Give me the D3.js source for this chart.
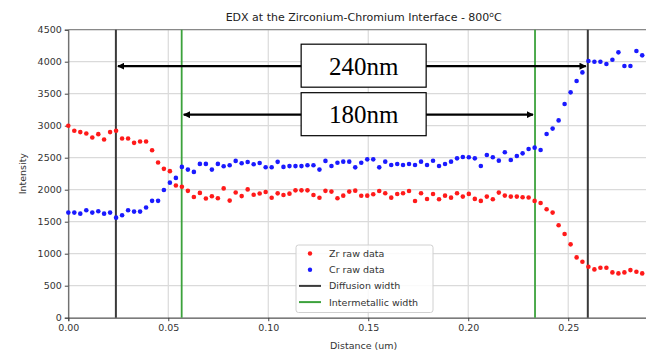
<!DOCTYPE html>
<html>
<head>
<meta charset="utf-8">
<script src="https://cdn.jsdelivr.net/npm/d3@7"></script>
<style>
  body { margin: 0; background: #fff; }
  svg { display: block; font-family: "DejaVu Sans", sans-serif; }
</style>
</head>
<body>
<div id="chart"></div>
<script>
const width = 646;
const height = 351;

// distance along the line scan (um)
const distance = [
  0, 0.0030, 0.0060, 0.0090, 0.0120, 0.0150, 0.0179, 0.0209, 0.0239, 0.0269,
  0.0299, 0.0329, 0.0359, 0.0389, 0.0419, 0.0449, 0.0478, 0.0508, 0.0538, 0.0568,
  0.0598, 0.0628, 0.0658, 0.0688, 0.0718, 0.0748, 0.0777, 0.0807, 0.0837, 0.0867,
  0.0897, 0.0927, 0.0957, 0.0987, 0.1017, 0.1047, 0.1076, 0.1106, 0.1136, 0.1166,
  0.1196, 0.1226, 0.1256, 0.1286, 0.1316, 0.1346, 0.1375, 0.1405, 0.1435, 0.1465,
  0.1495, 0.1525, 0.1555, 0.1585, 0.1615, 0.1645, 0.1674, 0.1704, 0.1734, 0.1764,
  0.1794, 0.1824, 0.1854, 0.1884, 0.1914, 0.1944, 0.1973, 0.2003, 0.2033, 0.2063,
  0.2093, 0.2123, 0.2153, 0.2183, 0.2213, 0.2243, 0.2272, 0.2302, 0.2332, 0.2362,
  0.2392, 0.2422, 0.2452, 0.2482, 0.2512, 0.2542, 0.2571, 0.2601, 0.2631, 0.2661,
  0.2691, 0.2721, 0.2751, 0.2781, 0.2811, 0.2841, 0.2870
];

const zrRaw = [
  3000, 2921, 2900, 2879, 2816, 2868, 2784, 2900, 2921, 2800,
  2800, 2732, 2753, 2753, 2616, 2426, 2326, 2290, 2065, 2047,
  1982, 1885, 1950, 1862, 1898, 1867, 2020, 1830, 1956, 1900,
  2005, 1922, 1940, 1965, 1875, 1943, 1917, 1938, 1990, 1990,
  1990, 1917, 1875, 1982, 1970, 1866, 1907, 1970, 1985, 1905,
  1907, 1928, 1980, 1944, 1876, 1933, 1944, 1980, 1824, 1944,
  1855, 1933, 1850, 1907, 1876, 1944, 1892, 1934, 1856, 1825,
  1892, 1851, 1955, 1908, 1892, 1892, 1882, 1877, 1825, 1792,
  1694, 1642, 1444, 1307, 1146, 942, 875, 796, 755, 781,
  781, 708, 692, 708, 744, 718, 692
];

const crRaw = [
  1642, 1642, 1626, 1679, 1642, 1663, 1626, 1642, 1563, 1600,
  1679, 1658, 1658, 1721, 1826, 1826, 1995, 2110, 2184, 2356,
  2314, 2278, 2403, 2403, 2314, 2403, 2366, 2382, 2450, 2414,
  2432, 2398, 2418, 2351, 2351, 2435, 2356, 2369, 2369, 2369,
  2382, 2382, 2314, 2450, 2370, 2422, 2438, 2438, 2349, 2422,
  2474, 2474, 2349, 2438, 2386, 2401, 2386, 2401, 2386, 2438,
  2386, 2453, 2370, 2401, 2438, 2490, 2510, 2506, 2490, 2371,
  2542, 2506, 2454, 2584, 2464, 2527, 2568, 2636, 2657, 2620,
  2870, 2955, 3083, 3338, 3521, 3698, 3833, 4010, 4000, 4000,
  3964, 4031, 4146, 3932, 3932, 4167, 4099
];

// boundaries (um)
const diffusionEdges = [0.0238, 0.2598];
const intermetallicEdges = [0.0567, 0.2334];

// width annotations: label, edges, height of arrow in intensity units
const annotations = [
  { label: '240nm', edges: diffusionEdges, level: 3930 },
  { label: '180nm', edges: intermetallicEdges, level: 3172 }
];

const xTicks = [0, 0.05, 0.10, 0.15, 0.20, 0.25];
const yTicks = [0, 500, 1000, 1500, 2000, 2500, 3000, 3500, 4000, 4500];

const legendItems = [
  { label: 'Zr raw data', type: 'dot', color: '#ff1a1a' },
  { label: 'Cr raw data', type: 'dot', color: '#1a1aff' },
  { label: 'Diffusion width', type: 'line', color: '#3a3a3a' },
  { label: 'Intermetallic width', type: 'line', color: '#3ca23c' }
];

const margin = { top: 29.7, left: 68.3, bottom: 33.3 };
const plotRight = 659;

const svg = d3
  .select('#chart')
  .append('svg')
  .attr('width', width)
  .attr('height', height)
  .attr('viewBox', `0 0 ${width} ${height}`);

const xScale = d3.scaleLinear()
  .domain([0, 0.2954])
  .range([margin.left, plotRight]);

const yScale = d3.scaleLinear()
  .domain([0, 4500])
  .range([height - margin.bottom, margin.top]);

// Gridlines
const grid = svg.append('g').attr('class', 'gridlines');
grid.selectAll('.gx')
  .data(xTicks)
  .join('line')
  .attr('x1', d => xScale(d)).attr('x2', d => xScale(d))
  .attr('y1', yScale(0)).attr('y2', yScale(4500))
  .attr('stroke', '#dadada')
  .attr('stroke-width', 1.2);
grid.selectAll('.gy')
  .data(yTicks)
  .join('line')
  .attr('x1', xScale.range()[0]).attr('x2', xScale.range()[1])
  .attr('y1', d => yScale(d)).attr('y2', d => yScale(d))
  .attr('stroke', '#dadada')
  .attr('stroke-width', 1.2);

// Axes
svg.append('g')
  .attr('class', 'x-axis')
  .attr('transform', `translate(0, ${yScale(0)})`)
  .call(d3.axisBottom(xScale).tickValues(xTicks).tickFormat(d3.format('.2f')).tickSizeOuter(0).tickSize(3.5).tickPadding(3));

svg.append('g')
  .attr('class', 'y-axis')
  .attr('transform', `translate(${xScale(0)}, 0)`)
  .call(d3.axisLeft(yScale).tickValues(yTicks).tickFormat(d3.format('d')).tickSizeOuter(0).tickSize(3.5).tickPadding(3));

svg.selectAll('.x-axis text, .y-axis text')
  .attr('font-size', 9.5)
  .attr('fill', '#333')
  .attr('font-family', '"DejaVu Sans", sans-serif');
svg.selectAll('.x-axis .domain, .y-axis .domain, .tick line')
  .attr('stroke', '#444');

// top frame line
svg.append('line')
  .attr('x1', xScale.range()[0]).attr('x2', xScale.range()[1])
  .attr('y1', yScale(4500)).attr('y2', yScale(4500))
  .attr('stroke', '#777')
  .attr('stroke-width', 1);

// Vertical boundary lines
svg.append('g')
  .selectAll('line')
  .data(diffusionEdges)
  .join('line')
  .attr('x1', d => xScale(d)).attr('x2', d => xScale(d))
  .attr('y1', yScale(0)).attr('y2', yScale(4500))
  .attr('stroke', '#3a3a3a')
  .attr('stroke-width', 2);

svg.append('g')
  .selectAll('line')
  .data(intermetallicEdges)
  .join('line')
  .attr('x1', d => xScale(d)).attr('x2', d => xScale(d))
  .attr('y1', yScale(0)).attr('y2', yScale(4500))
  .attr('stroke', '#3ca23c')
  .attr('stroke-width', 1.8);

// Dots
const zrPoints = distance.map((d, i) => ({ x: d, y: zrRaw[i] }));
const crPoints = distance.map((d, i) => ({ x: d, y: crRaw[i] }));

svg.append('g').attr('class', 'dots')
  .selectAll('circle')
  .data(zrPoints)
  .join('circle')
  .attr('cx', d => xScale(d.x))
  .attr('cy', d => yScale(d.y))
  .attr('r', 2.3)
  .attr('fill', '#ff1a1a');

svg.append('g').attr('class', 'dots')
  .selectAll('circle')
  .data(crPoints)
  .join('circle')
  .attr('cx', d => xScale(d.x))
  .attr('cy', d => yScale(d.y))
  .attr('r', 2.3)
  .attr('fill', '#1a1aff');

// Arrow annotations
const defs = svg.append('defs');
defs.append('marker')
  .attr('id', 'arrow')
  .attr('viewBox', '0 0 10 10')
  .attr('refX', 9).attr('refY', 5)
  .attr('markerWidth', 3.2).attr('markerHeight', 3.2)
  .attr('orient', 'auto-start-reverse')
  .append('path')
  .attr('d', 'M0,0 L10,5 L0,10 z')
  .attr('fill', '#000');

const xMid = (xScale.range()[0] + xScale.range()[1]) / 2;

annotations.forEach(a => {
  const g = svg.append('g').attr('class', 'annotation');
  g.append('line')
    .attr('x1', xScale(a.edges[0]) + 2)
    .attr('x2', xScale(a.edges[1]) - 2)
    .attr('y1', yScale(a.level)).attr('y2', yScale(a.level))
    .attr('stroke', '#000')
    .attr('stroke-width', 2.2)
    .attr('marker-start', 'url(#arrow)')
    .attr('marker-end', 'url(#arrow)');
  g.append('rect')
    .attr('x', xMid - 62.5)
    .attr('y', yScale(a.level) - 22)
    .attr('width', 125)
    .attr('height', 43)
    .attr('fill', '#fff')
    .attr('stroke', '#000')
    .attr('stroke-width', 1.2);
  g.append('text')
    .attr('x', xMid)
    .attr('y', yScale(a.level) + 8.5)
    .attr('text-anchor', 'middle')
    .attr('font-family', '"Liberation Serif", "Times New Roman", serif')
    .attr('font-size', 25)
    .attr('fill', '#000')
    .text(a.label);
});

// Title
const title = svg.append('text')
  .attr('x', xMid)
  .attr('y', 21)
  .attr('text-anchor', 'middle')
  .attr('font-size', 11)
  .attr('fill', '#222');
title.append('tspan').text('EDX at the Zirconium-Chromium Interface - 800');
title.append('tspan').attr('font-size', 7.5).attr('dy', -4).text('o');
title.append('tspan').attr('dy', 4).text('C');

// Axis labels
svg.append('text')
  .attr('x', xMid)
  .attr('y', 349)
  .attr('text-anchor', 'middle')
  .attr('font-size', 9.5)
  .attr('fill', '#333')
  .text('Distance (um)');

svg.append('text')
  .attr('transform', `translate(26, ${(yScale(0) + yScale(4500)) / 2}) rotate(-90)`)
  .attr('text-anchor', 'middle')
  .attr('font-size', 9.5)
  .attr('fill', '#333')
  .text('Intensity');

// Legend
const legend = svg.append('g')
  .attr('class', 'legend')
  .attr('transform', 'translate(296, 245)');

legend.append('rect')
  .attr('width', 137)
  .attr('height', 67.5)
  .attr('rx', 2.5)
  .attr('fill', '#fff')
  .attr('fill-opacity', 0.85)
  .attr('stroke', '#d0d0d0');

legendItems.forEach((item, i) => {
  const yy = 8.5 + i * 16.2;
  if (item.type === 'dot') {
    legend.append('circle')
      .attr('cx', 14).attr('cy', yy)
      .attr('r', 2.2)
      .attr('fill', item.color);
  } else {
    legend.append('line')
      .attr('x1', 3).attr('x2', 25)
      .attr('y1', yy).attr('y2', yy)
      .attr('stroke', item.color)
      .attr('stroke-width', 2);
  }
  legend.append('text')
    .attr('x', 33)
    .attr('y', yy + 3.5)
    .attr('font-size', 9.5)
    .attr('fill', '#333')
    .text(item.label);
});
</script>
</body>
</html>
